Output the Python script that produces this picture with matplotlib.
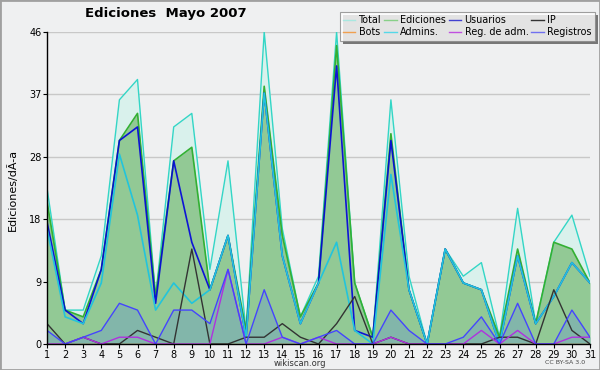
import matplotlib
matplotlib.use("Agg")
import matplotlib.pyplot as plt
from matplotlib.patches import Rectangle
from matplotlib.lines import Line2D

days = list(range(1, 32))
total     = [23, 5, 5, 13, 36, 39, 7, 32, 34, 11, 27, 2, 46, 17, 4, 10, 46, 9, 1, 36, 10, 0, 14, 10, 12, 1, 20, 3, 15, 19, 10]
ediciones = [21, 5, 4, 11, 30, 34, 7, 27, 29, 8, 16, 2, 38, 16, 4, 9, 44, 9, 1, 31, 8, 0, 14, 9, 8, 1, 14, 3, 15, 14, 9]
usuarios  = [18, 5, 3, 11, 30, 32, 6, 27, 15, 8, 16, 1, 37, 13, 3, 9, 41, 2, 1, 30, 8, 0, 14, 9, 8, 0, 13, 3, 7, 12, 9]
ip        = [3, 0, 1, 0, 0, 2, 1, 0, 14, 0, 0, 1, 1, 3, 1, 0, 3, 7, 0, 1, 0, 0, 0, 0, 0, 1, 1, 0, 8, 2, 0]
bots      = [0] * 31
admins    = [17, 4, 3, 9, 28, 19, 5, 9, 6, 8, 16, 1, 37, 13, 3, 9, 15, 2, 0, 25, 8, 0, 14, 9, 8, 0, 13, 3, 7, 12, 9]
reg_adm   = [0, 0, 1, 0, 1, 1, 0, 0, 0, 0, 11, 0, 0, 1, 0, 1, 0, 0, 0, 1, 0, 0, 0, 0, 2, 0, 2, 0, 0, 1, 1]
registros = [2, 0, 1, 2, 6, 5, 0, 5, 5, 3, 11, 0, 8, 1, 0, 1, 2, 0, 0, 5, 2, 0, 0, 1, 4, 0, 6, 0, 0, 5, 1]

ymax = 46
yticks = [ymax * k / 5 for k in range(6)]
ytick_labels = ["0", "9", "18", "28", "37", "46"]

BG = "#eff0f1"
fig = plt.figure(figsize=(6, 3.7), dpi=100, facecolor=BG)
ax = fig.add_axes([47/600, 26/370, 543/600, 312/370])
ax.set_facecolor(BG)

c_total = "#33d6c6"
c_edic = "#33b033"
c_usu = "#0000dd"
c_ip = "#333333"
c_bots = "#f09030"
c_adm = "#22c4dc"
c_regadm = "#b030e0"
c_reg = "#4444ff"

ax.fill_between(days, total, 0, color="#d9f1ec", lw=0, zorder=1)
ax.fill_between(days, ediciones, 0, color="#92c995", lw=0, zorder=1.1)
ax.fill_between(days, registros, 0, color="#82b6aa", lw=0, zorder=1.2)

ax.plot(days, bots, color=c_bots, lw=1, zorder=1.5)
ax.plot(days, total, color=c_total, lw=1, zorder=2)
ax.plot(days, ediciones, color=c_edic, lw=1.2, zorder=2.1)
ax.plot(days, admins, color=c_adm, lw=1.2, zorder=2.2)
ax.plot(days, usuarios, color=c_usu, lw=1.2, zorder=2.15, alpha=0.9)
ax.plot(days, ip, color=c_ip, lw=1, zorder=2.3)
ax.plot(days, reg_adm, color=c_regadm, lw=1, zorder=2.35)
ax.plot(days, registros, color=c_reg, lw=1, zorder=2.4)

ax.set_xlim(1, 31)
ax.set_ylim(0, ymax)
ax.set_xticks(days)
ax.set_xticklabels([str(d) for d in days], fontsize=7)
ax.set_yticks(yticks)
ax.set_yticklabels(ytick_labels, fontsize=7)
ax.tick_params(axis="both", length=3, width=0.8, pad=1, colors="black")
ax.yaxis.grid(True, color="#c8c8c8", lw=1)
ax.set_axisbelow(True)
for s in ["top", "right"]:
    ax.spines[s].set_visible(False)
ax.spines["left"].set_linewidth(1)
ax.spines["bottom"].set_linewidth(1)

fig.text(12/600, 1 - 190/370, "Ediciones/dÃ-a", rotation=90, fontsize=8,
         ha="center", va="center")
fig.text(85/600, 1 - 14/370, "Ediciones  Mayo 2007", fontsize=9.5, fontweight="bold",
         ha="left", va="center")
fig.text(300/600, 1 - 363/370, "wikiscan.org", fontsize=6, ha="center", va="center",
         color="#333333")
fig.text(565/600, 1 - 362/370, "CC BY-SA 3.0", fontsize=4.5, ha="center", va="center",
         color="#444444")

# legend
names = ["Total", "Bots", "Ediciones", "Admins.", "Usuarios", "Reg. de adm.", "IP", "Registros"]
lcolors = ["#a8e8e0", "#f0a050", "#88d088", "#55d8e8", "#4040d0", "#c050e0", "#333333", "#7070f0"]
handles = [Line2D([0], [0], color=c, lw=1) for c in lcolors]
leg = fig.legend(handles, names, ncol=4, loc="upper right",
                 bbox_to_anchor=(595/600, 1 - 12/370), fontsize=6.9,
                 frameon=True, fancybox=False, shadow=False, handlelength=1.3,
                 handletextpad=0.35, columnspacing=0.3, labelspacing=0.2,
                 borderpad=0.35, borderaxespad=0)
leg.get_frame().set_edgecolor("#888888")
leg.get_frame().set_facecolor("white")
leg.get_frame().set_linewidth(0.8)
fig.canvas.draw()
bb = leg.get_window_extent().transformed(fig.transFigure.inverted())
fig.patches.append(Rectangle((bb.x0 + 3/600, bb.y0 - 3/370), bb.width, bb.height,
                             transform=fig.transFigure, facecolor="#777777",
                             edgecolor="none", zorder=leg.get_zorder() - 0.1))
leg.set_zorder(10)

fig.patches.append(Rectangle((0, 0), 1, 1, transform=fig.transFigure, fill=False,
                             edgecolor="#a0a0a0", lw=2))

fig.savefig("out.png", dpi=100, facecolor=BG)
